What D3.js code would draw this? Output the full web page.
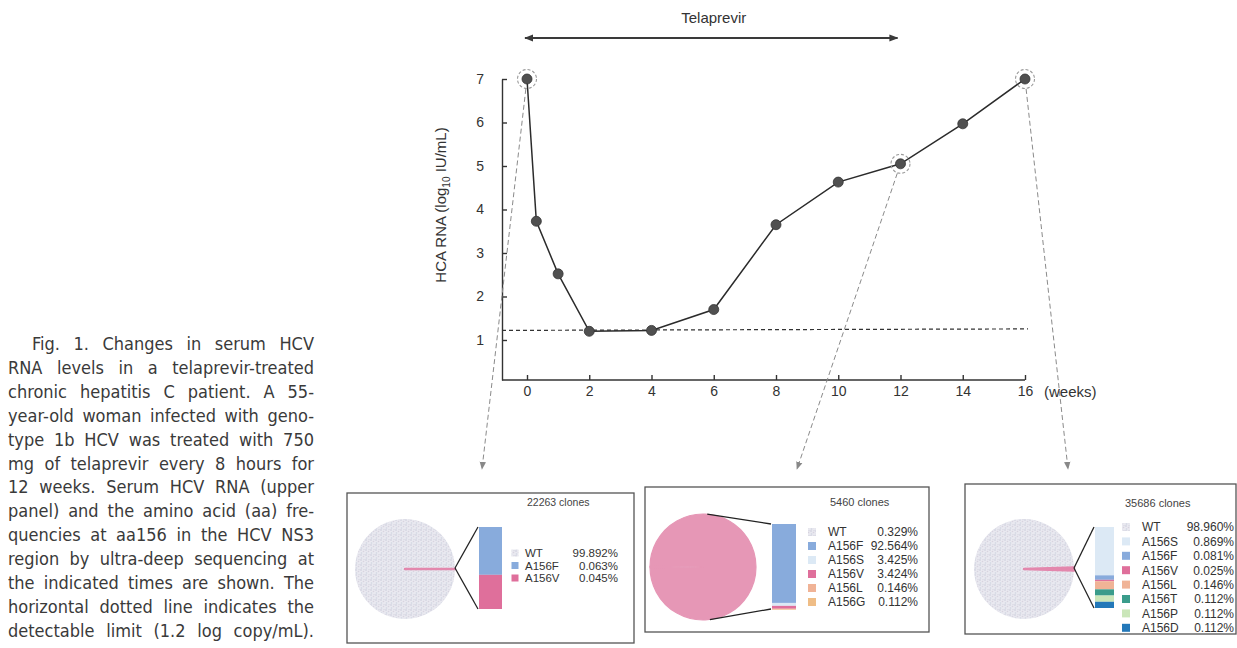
<!DOCTYPE html>
<html><head><meta charset="utf-8">
<script src="https://cdn.jsdelivr.net/npm/d3@7"></script>
<style>
body{margin:0;background:#fff;}
svg{display:block;font-family:"Liberation Sans",Arial,Helvetica,sans-serif;}
</style>
</head><body>
<svg id="c" width="1237" height="648"></svg>
<script>
// ---------------- data ----------------
const weeks = [0, 0.3, 1, 2, 4, 6, 8, 10, 12, 14, 16];
const rna   = [7.0, 3.73, 2.52, 1.2, 1.22, 1.7, 3.65, 4.63, 5.05, 5.97, 7.0];
const xTicks = [0, 2, 4, 6, 8, 10, 12, 14, 16];
const yTicks = [1, 2, 3, 4, 5, 6, 7];
const detectLimit = 1.22;
const treatmentWeeks = [0, 12];
const sampledWeeks = [0, 12, 16];

const p1Labels = ["WT", "A156F", "A156V"];
const p1Values = [99.892, 0.063, 0.045];
const p2Labels = ["WT", "A156F", "A156S", "A156V", "A156L", "A156G"];
const p2Values = [0.329, 92.564, 3.425, 3.424, 0.146, 0.112];
const p3Labels = ["WT", "A156S", "A156F", "A156V", "A156L", "A156T", "A156P", "A156D"];
const p3Values = [98.960, 0.869, 0.081, 0.025, 0.146, 0.112, 0.112, 0.112];
const cloneCounts = [22263, 5460, 35686];

const captionLines = [
  "Fig. 1. Changes in serum HCV",
  "RNA levels in a telaprevir-treated",
  "chronic hepatitis C patient. A 55-",
  "year-old woman infected with geno-",
  "type 1b HCV was treated with 750",
  "mg of telaprevir every 8 hours for",
  "12 weeks. Serum HCV RNA (upper",
  "panel) and the amino acid (aa) fre-",
  "quencies at aa156 in the HCV NS3",
  "region by ultra-deep sequencing at",
  "the indicated times are shown. The",
  "horizontal dotted line indicates the",
  "detectable limit (1.2 log copy/mL)."
];

// ---------------- styles ----------------
const colors = {
  "WT": "url(#wtPat)",
  "A156F": "#88abdc",
  "A156S": "#dce9f5",
  "A156V": "#df6f9b",
  "A156L": "#f0b396",
  "A156G": "#efbd86",
  "A156T": "#3a9c8b",
  "A156P": "#cae6b9",
  "A156D": "#2378b9"
};
const mutantPink = "#e697b6";
const linePink = "#e387ad";

const svg = d3.select("#c");
const defs = svg.append("defs");

// speckled WT texture
const pat = defs.append("pattern").attr("id", "wtPat").attr("patternUnits", "userSpaceOnUse")
  .attr("width", 5).attr("height", 5);
pat.append("rect").attr("width", 5).attr("height", 5).attr("fill", "#e9e9f0");
[[1,1,"#cbcadb"],[3.5,2.5,"#d8d3df"],[1.5,4,"#d0d5e1"],[4,0.5,"#dadae5"]].forEach(d =>
  pat.append("circle").attr("cx", d[0]).attr("cy", d[1]).attr("r", 0.8).attr("fill", d[2]));

defs.append("marker").attr("id", "arrowDark").attr("viewBox", "0 0 10 10")
  .attr("refX", 9).attr("refY", 5).attr("markerWidth", 9).attr("markerHeight", 9)
  .attr("markerUnits", "userSpaceOnUse").attr("orient", "auto-start-reverse")
  .append("path").attr("d", "M0,1 L10,5 L0,9 Z").attr("fill", "#3a3a3a");
defs.append("marker").attr("id", "arrowGray").attr("viewBox", "0 0 10 10")
  .attr("refX", 9).attr("refY", 5).attr("markerWidth", 8).attr("markerHeight", 8)
  .attr("markerUnits", "userSpaceOnUse").attr("orient", "auto")
  .append("path").attr("d", "M0,1 L10,5 L0,9 Z").attr("fill", "#888");

// ---------------- main chart ----------------
const x = d3.scaleLinear().domain([0, 16]).range([527, 1025]);
const y = d3.scaleLinear().domain([0.08, 7]).range([380, 79]);
const axisX0 = 502;

const yAxis = svg.append("g").attr("transform", `translate(${axisX0},0)`)
  .call(d3.axisLeft(y).tickValues(yTicks).tickFormat(d3.format("d"))
    .tickSize(-5).tickSizeOuter(0).tickPadding(18));
const xAxis = svg.append("g").attr("transform", `translate(0,${y(0.08)})`)
  .call(d3.axisBottom(x).tickValues(xTicks).tickFormat(d3.format("d"))
    .tickSize(-5).tickSizeOuter(0).tickPadding(6));
xAxis.select(".domain").remove();
svg.append("line").attr("x1", axisX0).attr("x2", x(16)).attr("y1", y(0.08)).attr("y2", y(0.08))
  .attr("stroke", "#333").attr("stroke-width", 1.4);
[yAxis, xAxis].forEach(g => {
  g.selectAll("path,line").attr("stroke", "#333").attr("stroke-width", 1.4);
  g.selectAll("text").attr("font-size", 14).attr("fill", "#333");
});
svg.append("text").attr("x", x(16) + 19).attr("y", y(0.08) + 16.5)
  .attr("font-size", 15).attr("fill", "#333").text("(weeks)");

svg.append("text").attr("transform", `translate(446,205) rotate(-90)`)
  .attr("text-anchor", "middle").attr("font-size", 15).attr("fill", "#333")
  .call(t => {
    t.append("tspan").text("HCA RNA (log");
    t.append("tspan").attr("font-size", 10).attr("dy", 4).text("10");
    t.append("tspan").attr("dy", -4).text(" IU/mL)");
  });

// detection limit
svg.append("line").attr("x1", axisX0).attr("x2", x(16) + 3)
  .attr("y1", y(detectLimit)).attr("y2", y(detectLimit) - 1.5)
  .attr("stroke", "#333").attr("stroke-width", 1.2).attr("stroke-dasharray", "4,3");

// data line + points
const pts = weeks.map((w, i) => [w, rna[i]]);
svg.append("path").datum(pts)
  .attr("d", d3.line().x(d => x(d[0])).y(d => y(d[1])))
  .attr("fill", "none").attr("stroke", "#2b2b2b").attr("stroke-width", 1.5);
svg.selectAll(".pt").data(pts).enter().append("circle")
  .attr("cx", d => x(d[0])).attr("cy", d => y(d[1])).attr("r", 5)
  .attr("fill", "#505050").attr("stroke", "#333").attr("stroke-width", 0.8);

// sampled-point dashed rings
const sampled = sampledWeeks.map(w => pts[weeks.indexOf(w)]);
svg.selectAll(".ring").data(sampled).enter().append("circle")
  .attr("cx", d => x(d[0])).attr("cy", d => y(d[1])).attr("r", 9.5)
  .attr("fill", "none").attr("stroke", "#9a9a9a").attr("stroke-width", 1.1)
  .attr("stroke-dasharray", "3,2");

// Telaprevir arrow
svg.append("line").attr("x1", x(treatmentWeeks[0]) - 2).attr("x2", x(treatmentWeeks[1]) - 3)
  .attr("y1", 38).attr("y2", 38).attr("stroke", "#3a3a3a").attr("stroke-width", 2)
  .attr("marker-start", "url(#arrowDark)").attr("marker-end", "url(#arrowDark)");
svg.append("text").attr("x", (x(treatmentWeeks[0]) + x(treatmentWeeks[1])) / 2).attr("y", 23)
  .attr("text-anchor", "middle").attr("font-size", 15).attr("fill", "#333").text("Telaprevir");

// ---------------- panels ----------------
const panels = [
  { labels: p1Labels, values: p1Values, count: cloneCounts[0],
    box: [347, 493, 634, 643], pie: [405, 569, 50], bar: [479, 527, 609, 23], fan: "point",
    title: [527, 506, 10.5], leg: { sq: 515, tx: 525, pr: 618, y0: 553, dy: 12.5, fs: 11.5, s: 7 },
    target: [482, 469] },
  { labels: p2Labels, values: p2Values, count: cloneCounts[1],
    box: [645, 487, 929, 632], pie: [703, 567, 53], bar: [772, 524, 609, 24], fan: "whole",
    title: [830, 506, 11], leg: { sq: 812, tx: 828, pr: 918, y0: 532, dy: 14, fs: 12, s: 8 },
    target: [797, 469] },
  { labels: p3Labels, values: p3Values, count: cloneCounts[2],
    box: [965, 484, 1236, 634], pie: [1024, 569, 50], bar: [1095, 527, 608, 19], fan: "point",
    title: [1125, 507, 11], leg: { sq: 1126, tx: 1142, pr: 1234, y0: 527, dy: 14.4, fs: 12, s: 8 },
    target: [1068, 469] }
];

panels.forEach((p, i) => {
  // connector from sampled point ring
  const s = sampled[i];
  const sx = x(s[0]), sy = y(s[1]);
  const dx = p.target[0] - sx, dyy = p.target[1] - sy, L = Math.hypot(dx, dyy);
  svg.append("line").attr("x1", sx + dx / L * 10).attr("y1", sy + dyy / L * 10)
    .attr("x2", p.target[0]).attr("y2", p.target[1])
    .attr("stroke", "#8a8a8a").attr("stroke-width", 1).attr("stroke-dasharray", "5,3")
    .attr("marker-end", "url(#arrowGray)");

  const g = svg.append("g");
  g.append("rect").attr("x", p.box[0]).attr("y", p.box[1])
    .attr("width", p.box[2] - p.box[0]).attr("height", p.box[3] - p.box[1])
    .attr("fill", "#fff").attr("stroke", "#555").attr("stroke-width", 1.3);

  // pie: WT vs non-WT
  const [cx, cy, r] = p.pie;
  const wt = p.values[0];
  const mut = 100 - wt;
  const mutAngle = 2 * Math.PI * mut / 100;
  const pieGen = d3.pie().sort(null).value(d => d.v)
    .startAngle(Math.PI / 2 - mutAngle / 2).endAngle(Math.PI / 2 - mutAngle / 2 + 2 * Math.PI);
  const arcs = pieGen([{ k: "mut", v: mut }, { k: "WT", v: wt }]);
  const arc = d3.arc().innerRadius(0).outerRadius(r);
  const pointFan = p.fan === "point";
  // draw WT first, then the non-WT slice on top
  const drawOrder = pointFan ? [arcs[1], arcs[0]] : arcs;
  g.selectAll(".sl").data(drawOrder).enter().append("path")
    .attr("transform", `translate(${cx},${cy})`).attr("d", arc)
    .attr("fill", d => d.data.k === "WT" ? colors.WT : (pointFan ? linePink : mutantPink))
    .attr("stroke", d => pointFan ? (d.data.k === "mut" ? linePink : "none") : mutantPink)
    .attr("stroke-width", pointFan ? 2.4 : 1.2)
    .attr("stroke-linejoin", "round");

  // stacked bar of non-WT variants
  const [bx, by0, by1, bw] = p.bar;
  const mutLabels = p.labels.slice(1), mutVals = p.values.slice(1);
  const yb = d3.scaleLinear().domain([0, d3.sum(mutVals)]).range([by0, by1]);
  let cum = 0;
  const stack = mutVals.map((v, j) => { const d = { k: mutLabels[j], a: cum, b: cum + v }; cum += v; return d; });
  g.selectAll(".bs").data(stack).enter().append("rect")
    .attr("x", bx).attr("width", bw)
    .attr("y", d => yb(d.a)).attr("height", d => Math.max(0.6, yb(d.b) - yb(d.a)))
    .attr("fill", d => colors[d.k]);

  // fan lines
  let a1, a2;
  if (pointFan) { a1 = [cx + r, cy - 1]; a2 = a1; }
  else { a1 = [cx + r * Math.sin(0.08), cy - r * Math.cos(0.08)]; a2 = [cx + r * Math.sin(Math.PI - 0.13), cy - r * Math.cos(Math.PI - 0.13)]; }
  g.append("line").attr("x1", a1[0]).attr("y1", a1[1]).attr("x2", bx - 1).attr("y2", by0)
    .attr("stroke", "#222").attr("stroke-width", 1.3);
  g.append("line").attr("x1", a2[0]).attr("y1", a2[1]).attr("x2", bx - 1).attr("y2", by1)
    .attr("stroke", "#222").attr("stroke-width", 1.3);

  // title
  g.append("text").attr("x", p.title[0]).attr("y", p.title[1]).attr("font-size", p.title[2])
    .attr("fill", "#444").text(p.count + " clones");

  // legend
  const lg = p.leg;
  p.labels.forEach((lab, j) => {
    const yy = lg.y0 + j * lg.dy;
    g.append("rect").attr("x", lg.sq - lg.s / 2).attr("y", yy - lg.s / 2)
      .attr("width", lg.s).attr("height", lg.s).attr("fill", colors[lab]);
    g.append("text").attr("x", lg.tx).attr("y", yy).attr("dy", "0.36em")
      .attr("font-size", lg.fs).attr("fill", "#333").text(lab);
    g.append("text").attr("x", lg.pr).attr("y", yy).attr("dy", "0.36em")
      .attr("text-anchor", "end").attr("font-size", lg.fs).attr("fill", "#333")
      .text(p.values[j].toFixed(3) + "%");
  });
});

// ---------------- caption (justified) ----------------
const capLeft = 8, capRight = 314, capIndent = 32, capY0 = 350, capDy = 23.9;
const cap = svg.append("g").attr("font-family", "'Liberation Sans Narrow','DejaVu Sans Condensed','Liberation Sans',sans-serif")
  .attr("font-size", 18).attr("fill", "#3a3a3a");
captionLines.forEach((line, i) => {
  const x0 = i === 0 ? capIndent : capLeft;
  const t = cap.append("text").attr("x", x0).attr("y", capY0 + i * capDy).text(line);
  const w = t.node().getComputedTextLength();
  const target = capRight - x0;
  const spaces = (line.match(/ /g) || []).length;
  if (w < target && spaces > 0) {
    t.attr("word-spacing", (target - w) / spaces);
  } else if (w > target) {
    t.attr("textLength", target).attr("lengthAdjust", "spacingAndGlyphs");
  }
});
</script>
</body></html>
